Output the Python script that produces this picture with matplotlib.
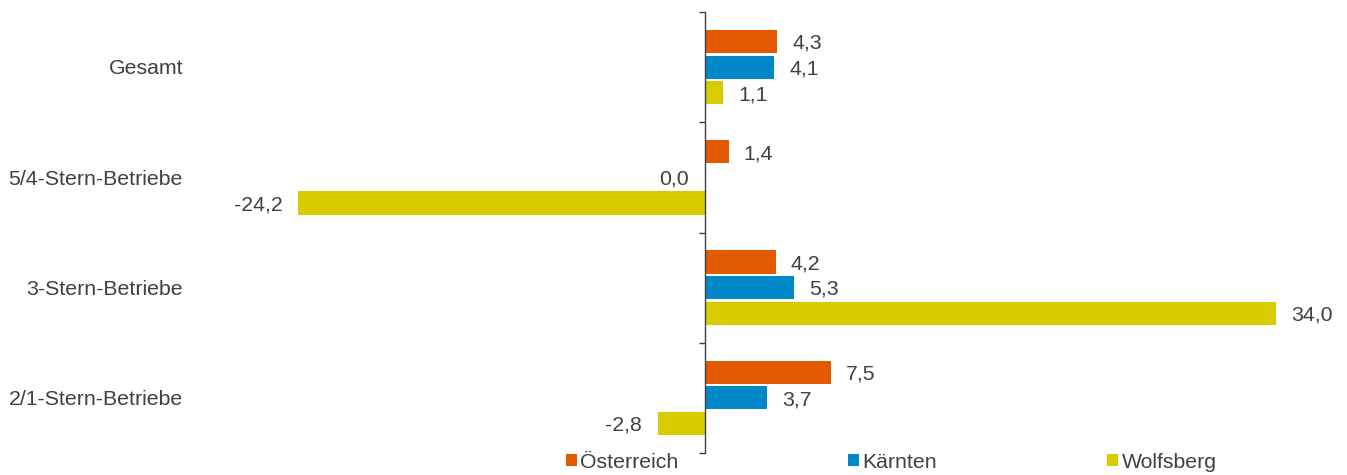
import matplotlib
matplotlib.use("Agg")
import matplotlib.pyplot as plt
import matplotlib.transforms as mtransforms
from matplotlib.patches import Patch
import numpy as np

plt.rcParams['font.family'] = ['Liberation Sans', 'DejaVu Sans']

categories = ["Gesamt", "5/4-Stern-Betriebe", "3-Stern-Betriebe", "2/1-Stern-Betriebe"]
series_names = ["Österreich", "Kärnten", "Wolfsberg"]
oesterreich = [4.3, 1.4, 4.2, 7.5]
kaernten = [4.1, 0.0, 5.3, 3.7]
wolfsberg = [1.1, -24.2, 34.0, -2.8]
colors = ["#E35A00", "#0088C8", "#D8CB00"]

W, H = 1347, 475
fig = plt.figure(figsize=(W / 100, H / 100), dpi=100)
x0 = 705
ppu = 16.8
xmin, xmax = -25.0, 35.0
left_px = x0 + xmin * ppu
right_px = x0 + xmax * ppu
top_px, bot_px = 12, 453
ax = fig.add_axes([left_px / W, 1 - bot_px / H, (right_px - left_px) / W, (bot_px - top_px) / H])
ax.set_xlim(xmin, xmax)
ax.set_ylim(len(categories) - 0.5, -0.5)

y = np.arange(len(categories))
offsets = [-0.232, 0.0, 0.232]
bh = 0.21
txt_color = "#404040"
fs = 15.3
dy = -1.3
for vals, off, col in zip([oesterreich, kaernten, wolfsberg], offsets, colors):
    ax.barh(y + off, vals, height=bh, color=col, edgecolor="none", zorder=2)
    for yy, v in zip(y + off, vals):
        lab = f"{v:.1f}".replace(".", ",")
        if v > 0:
            ax.annotate(lab, (v, yy), xytext=(11.0, dy), textcoords="offset points",
                        ha="left", va="center", fontsize=fs, color=txt_color)
        else:
            ax.annotate(lab, (v, yy), xytext=(-11.5, dy), textcoords="offset points",
                        ha="right", va="center", fontsize=fs, color=txt_color)

for s in ["top", "right", "bottom"]:
    ax.spines[s].set_visible(False)
ax.spines["left"].set_position(("data", 0))
ax.spines["left"].set_color("#404040")
ax.spines["left"].set_linewidth(1.0)
ax.set_xticks([])
ax.set_yticks(np.arange(len(categories) + 1) - 0.5)
ax.set_yticklabels([])
ax.tick_params(axis="y", direction="out", length=4.5, width=1.0, color="#404040")

trans = mtransforms.blended_transform_factory(fig.transFigure, ax.transData) + \
    mtransforms.ScaledTranslation(0, dy / 72, fig.dpi_scale_trans)
for yy, c in zip(y, categories):
    ax.text(183 / W, yy, c, transform=trans, ha="right", va="center",
            fontsize=fs, color=txt_color)

handles = [Patch(facecolor=c, edgecolor="none") for c in colors]
fig.legend(handles, series_names, loc="center left", bbox_to_anchor=(566 / W, 1 - 462 / H),
           ncol=3, frameon=False, fontsize=fs, handlelength=0.5, handleheight=0.5,
           handletextpad=0.17, columnspacing=8.0, borderpad=0, borderaxespad=0,
           labelcolor=txt_color)

fig.savefig("out.png", dpi=100)
